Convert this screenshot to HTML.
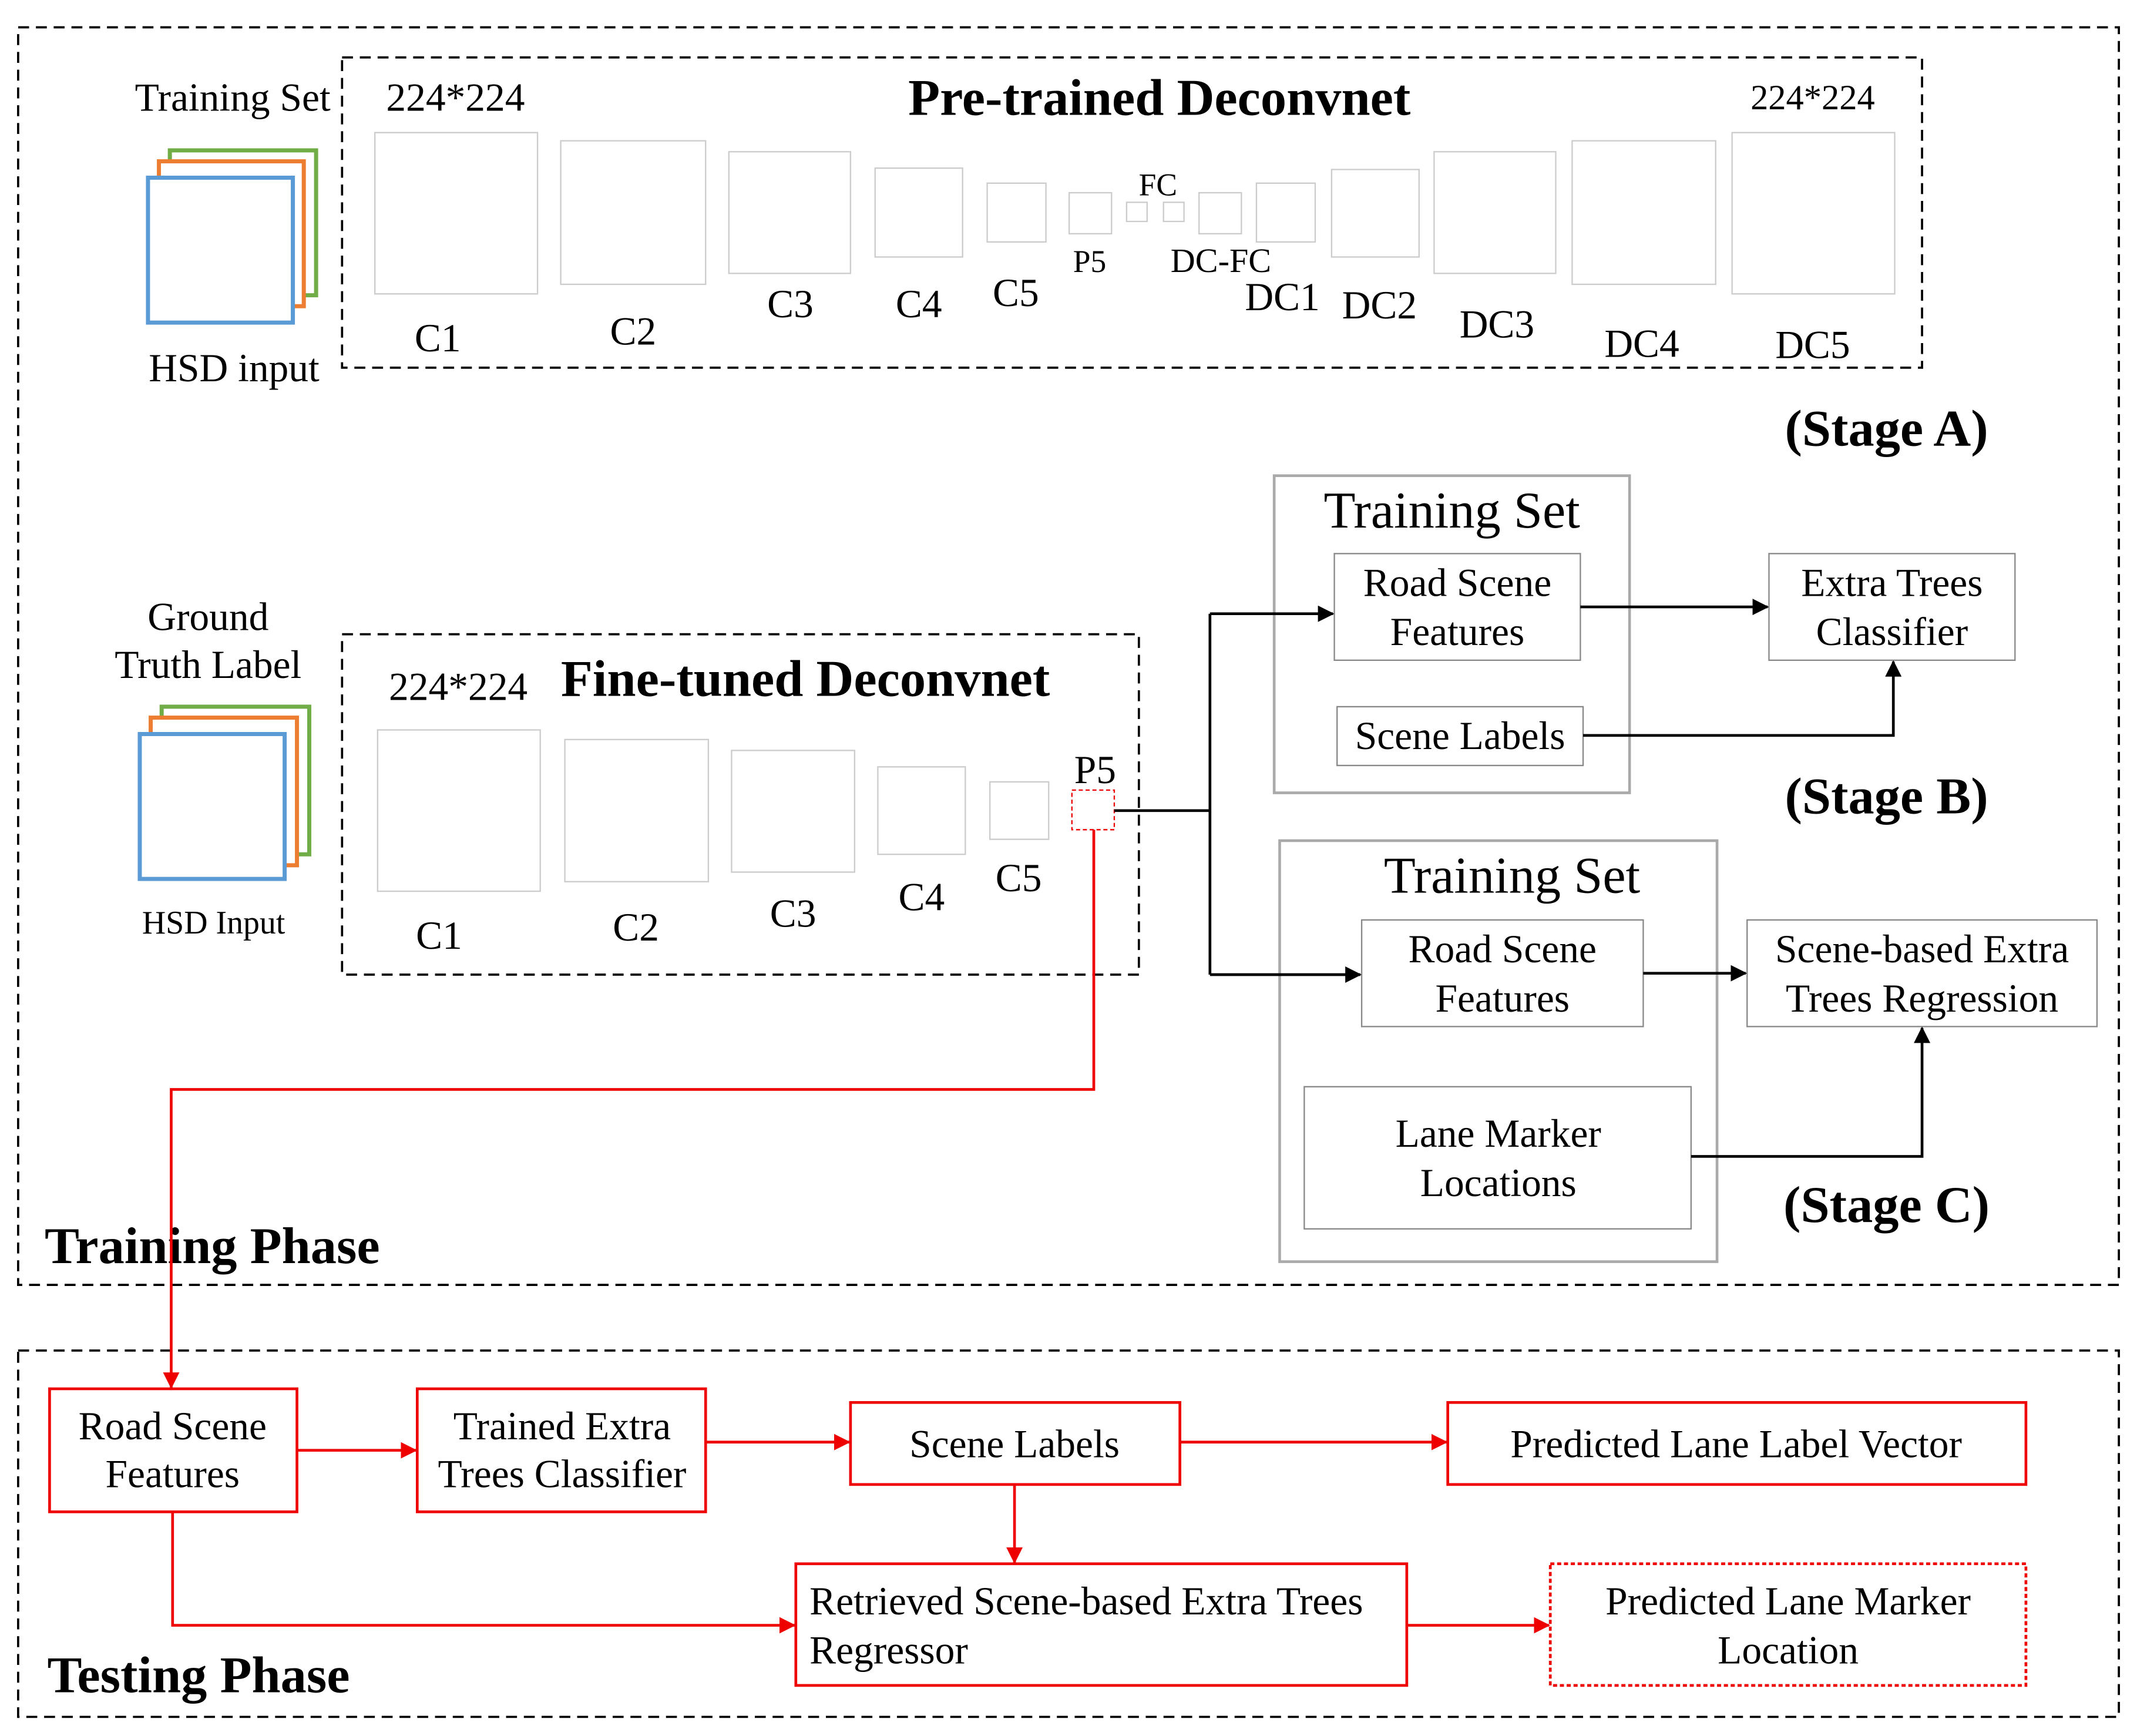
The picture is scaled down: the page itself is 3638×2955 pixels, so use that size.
<!DOCTYPE html>
<html><head><meta charset="utf-8"><style>
html,body{margin:0;padding:0;background:#fff;}
svg{display:block;}
text{font-family:"Liberation Serif",serif;fill:#000;}
</style></head><body>
<svg width="3638" height="2955" viewBox="0 0 1563 1270" xmlns="http://www.w3.org/2000/svg">
<defs>
<marker id="ab" markerWidth="12" markerHeight="12" refX="11" refY="6" orient="auto" markerUnits="userSpaceOnUse"><path d="M0,0 L12,6 L0,12 z" fill="#000"/></marker>
<marker id="ar" markerWidth="12" markerHeight="12" refX="11" refY="6" orient="auto" markerUnits="userSpaceOnUse"><path d="M0,0 L12,6 L0,12 z" fill="#e00"/></marker>
</defs>
<rect width="1563" height="1270" fill="#fff"/>
<g fill="none" stroke="#000" stroke-width="1.6" stroke-dasharray="8,5">
<rect x="13" y="20" width="1537" height="920"/>
<rect x="13" y="988" width="1537" height="268"/>
<rect x="250" y="42" width="1156" height="227"/>
<rect x="250" y="464" width="583" height="249"/>
</g>
<g fill="none" stroke="#ccc" stroke-width="1">
<rect x="274" y="97" width="119" height="118"/>
<rect x="410" y="103" width="106" height="105"/>
<rect x="533" y="111" width="89" height="89"/>
<rect x="640" y="123" width="64" height="65"/>
<rect x="722" y="134" width="43" height="43"/>
<rect x="782" y="141" width="31" height="30"/>
<rect x="824" y="148" width="15" height="14"/>
<rect x="851" y="148" width="15" height="14"/>
<rect x="877" y="141" width="31" height="30"/>
<rect x="919" y="134" width="43" height="43"/>
<rect x="974" y="124" width="64" height="64"/>
<rect x="1049" y="111" width="89" height="89"/>
<rect x="1150" y="103" width="105" height="105"/>
<rect x="1267" y="97" width="119" height="118"/>
<rect x="276" y="534" width="119" height="118"/>
<rect x="413" y="541" width="105" height="104"/>
<rect x="535" y="549" width="90" height="89"/>
<rect x="642" y="561" width="64" height="64"/>
<rect x="724" y="572" width="43" height="42"/>
</g>
<rect x="784" y="578" width="31" height="29" fill="none" stroke="#e00" stroke-width="1" stroke-dasharray="3,2"/>
<g font-size="29" text-anchor="middle">
<text x="320" y="257">C1</text><text x="463" y="252">C2</text><text x="578" y="232">C3</text>
<text x="672" y="232">C4</text><text x="743" y="224">C5</text>
<text x="797" y="199" font-size="23">P5</text><text x="847" y="143" font-size="23">FC</text>
<text x="893" y="199" font-size="25">DC-FC</text><text x="938" y="227">DC1</text>
<text x="1009" y="233">DC2</text><text x="1095" y="247">DC3</text><text x="1201" y="261">DC4</text><text x="1326" y="262">DC5</text>
<text x="333" y="81">224*224</text><text x="1326" y="80" font-size="26">224*224</text>
<text x="848" y="84" font-size="38" font-weight="bold">Pre-trained Deconvnet</text>
<text x="170" y="81">Training Set</text><text x="171" y="279">HSD input</text>
<text x="1380" y="326" font-size="38" font-weight="bold">(Stage A)</text>
<text x="335" y="512">224*224</text>
<text x="589" y="509" font-size="38" font-weight="bold">Fine-tuned Deconvnet</text>
<text x="321" y="694">C1</text><text x="465" y="688">C2</text><text x="580" y="678">C3</text>
<text x="674" y="666">C4</text><text x="745" y="652">C5</text><text x="801" y="573">P5</text>
<text x="152" y="461">Ground</text><text x="152" y="496">Truth Label</text>
<text x="156" y="683" font-size="24">HSD Input</text>
<text x="1062" y="386" font-size="38">Training Set</text>
<text x="1066" y="436">Road Scene</text><text x="1066" y="472">Features</text>
<text x="1068" y="548">Scene Labels</text>
<text x="1384" y="436">Extra Trees</text><text x="1384" y="472">Classifier</text>
<text x="1380" y="595" font-size="38" font-weight="bold">(Stage B)</text>
<text x="1106" y="653" font-size="38">Training Set</text>
<text x="1099" y="704">Road Scene</text><text x="1099" y="740">Features</text>
<text x="1406" y="704">Scene-based Extra</text><text x="1406" y="740">Trees Regression</text>
<text x="1096" y="839">Lane Marker</text><text x="1096" y="875">Locations</text>
<text x="1380" y="894" font-size="38" font-weight="bold">(Stage C)</text>
<text x="155" y="924" font-size="38" font-weight="bold">Training Phase</text>
<text x="145" y="1238" font-size="38" font-weight="bold">Testing Phase</text>
<text x="126" y="1053">Road Scene</text><text x="126" y="1088">Features</text>
<text x="411" y="1053">Trained Extra</text><text x="411" y="1088">Trees Classifier</text>
<text x="742" y="1066">Scene Labels</text>
<text x="1270" y="1066">Predicted Lane Label Vector</text>
<text x="592" y="1181" text-anchor="start">Retrieved Scene-based Extra Trees</text>
<text x="592" y="1217" text-anchor="start">Regressor</text>
<text x="1308" y="1181">Predicted Lane Marker</text><text x="1308" y="1217">Location</text>
</g>
<g fill="#fff" stroke-width="3">
<rect x="124" y="110" width="107" height="106" stroke="#70ad47"/>
<rect x="116" y="118" width="106" height="106" stroke="#ed7d31"/>
<rect x="108" y="130" width="106" height="106" stroke="#5b9bd5"/>
<rect x="118" y="517" width="108" height="108" stroke="#70ad47"/>
<rect x="110" y="525" width="107" height="108" stroke="#ed7d31"/>
<rect x="102" y="537" width="106" height="106" stroke="#5b9bd5"/>
</g>
<g fill="none" stroke="#aaa" stroke-width="2">
<rect x="932" y="348" width="260" height="232"/>
<rect x="936" y="615" width="320" height="308"/>
</g>
<g fill="none" stroke="#888" stroke-width="1">
<rect x="976" y="405" width="180" height="78"/>
<rect x="978" y="517" width="180" height="43"/>
<rect x="1294" y="405" width="180" height="78"/>
<rect x="996" y="673" width="206" height="78"/>
<rect x="1278" y="673" width="256" height="78"/>
<rect x="954" y="795" width="283" height="104"/>
</g>
<g fill="none" stroke="#000" stroke-width="2">
<path d="M815,593 H885 M885,449 V713"/>
<path d="M885,449 H975" marker-end="url(#ab)"/>
<path d="M885,713 H995" marker-end="url(#ab)"/>
<path d="M1156,444 H1293" marker-end="url(#ab)"/>
<path d="M1158,538 H1385 V484" marker-end="url(#ab)"/>
<path d="M1202,712 H1277" marker-end="url(#ab)"/>
<path d="M1237,846 H1406 V752" marker-end="url(#ab)"/>
</g>
<g fill="none" stroke="#e00" stroke-width="2">
<rect x="36" y="1016" width="181" height="90"/>
<rect x="305" y="1016" width="211" height="90"/>
<rect x="622" y="1026" width="241" height="60"/>
<rect x="1059" y="1026" width="423" height="60"/>
<rect x="582" y="1144" width="447" height="89"/>
<rect x="1134" y="1144" width="348" height="89" stroke-dasharray="3,2"/>
<path d="M800,607 V797 H125 V1015" marker-end="url(#ar)"/>
<path d="M217,1061 H304" marker-end="url(#ar)"/>
<path d="M516,1055 H621" marker-end="url(#ar)"/>
<path d="M863,1055 H1058" marker-end="url(#ar)"/>
<path d="M742,1086 V1143" marker-end="url(#ar)"/>
<path d="M126,1106 V1189 H581" marker-end="url(#ar)"/>
<path d="M1029,1189 H1133" marker-end="url(#ar)"/>
</g>
</svg>
</body></html>
